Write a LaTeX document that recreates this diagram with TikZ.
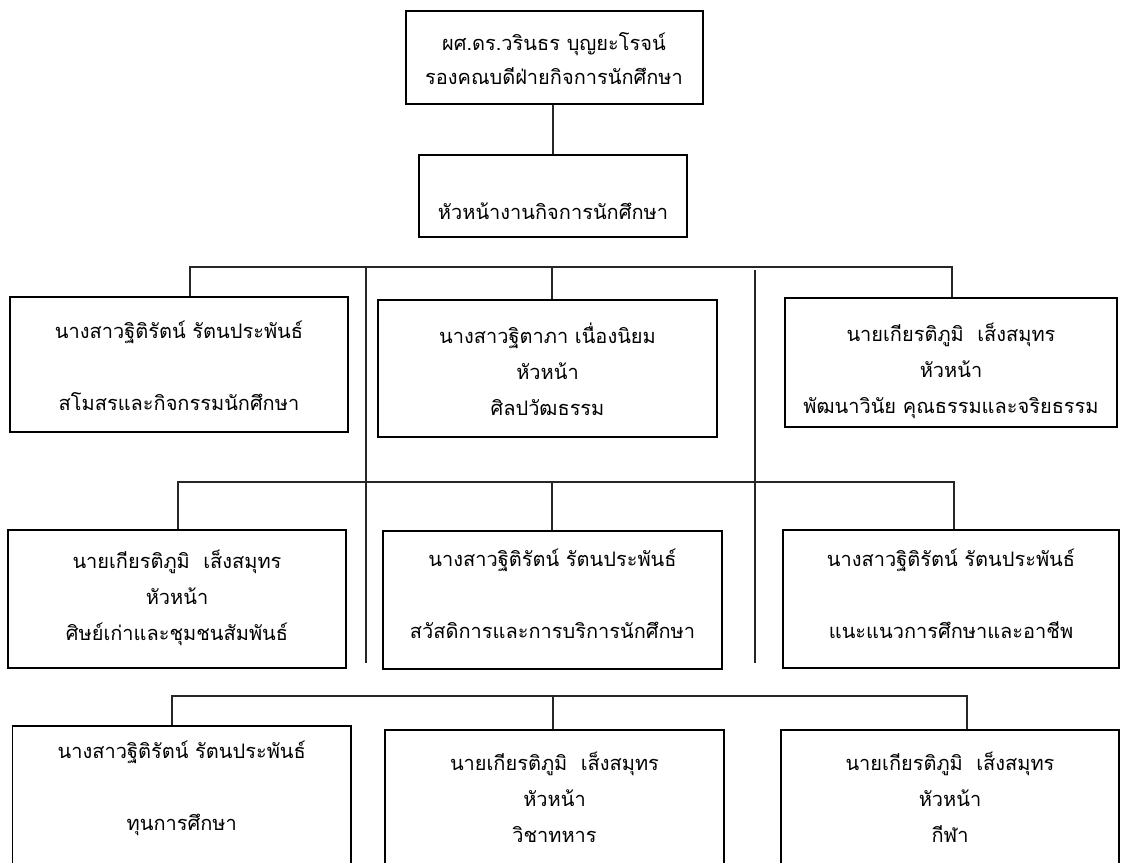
\documentclass[tikz,border=0pt]{standalone}
\usepackage{fontspec}
\newfontfamily\thaifont[Script=Thai]{Loma}
\begin{document}
\begin{tikzpicture}[x=1pt,y=-1pt,
  box/.style={draw=black, line width=1.8pt, inner sep=0pt},
  conn/.style={draw=black!85, line width=1.1pt},
  txt/.style={font=\thaifont\fontsize{20}{36}\selectfont, align=center, inner sep=0pt}]
\useasboundingbox (0,0) rectangle (1121,862);
\clip (0,0) rectangle (1121,862);
% boxes
\node[box, minimum width=297pt, minimum height=93pt] (top) at (554.5,57.5) {};
\node[box, minimum width=268pt, minimum height=82pt] (head) at (553,196) {};
\node[box, minimum width=338pt, minimum height=135pt] (A) at (179,364.5) {};
\node[box, minimum width=339pt, minimum height=137pt] (B) at (547.5,368.5) {};
\node[box, minimum width=332pt, minimum height=129pt] (C) at (951,362.5) {};
\node[box, minimum width=338pt, minimum height=138pt] (D) at (177,599) {};
\node[box, minimum width=339pt, minimum height=138pt] (E) at (552.5,600) {};
\node[box, minimum width=336pt, minimum height=138pt] (F) at (951,599) {};
\node[box, minimum width=338.5pt, minimum height=160pt] (G) at (181.75,806) {};
\node[box, minimum width=339pt, minimum height=160pt] (H) at (554.5,810) {};
\node[box, minimum width=338pt, minimum height=160pt] (I) at (950,810) {};
% texts
\node[txt, font=\thaifont\fontsize{20}{34}\selectfont] (ttop) at (554,59) {ผศ.ดร.วรินธร บุญยะโรจน์\\รองคณบดีฝ่ายกิจการนักศึกษา};
\node[txt] (thead) at (553,211) {หัวหน้างานกิจการนักศึกษา};
\node[txt] (tA) at (179,366) {นางสาวฐิติรัตน์ รัตนประพันธ์\\[36pt]สโมสรและกิจกรรมนักศึกษา};
\node[txt] (tB) at (547.5,369) {นางสาวฐิตาภา เนื่องนิยม\\หัวหน้า\\ศิลปวัฒธรรม};
\node[txt] (tC) at (951,371) {นายเกียรติภูมิ\ \ เส็งสมุทร\\หัวหน้า\\พัฒนาวินัย คุณธรรมและจริยธรรม};
\node[txt] (tD) at (177,598) {นายเกียรติภูมิ\ \ เส็งสมุทร\\หัวหน้า\\ศิษย์เก่าและชุมชนสัมพันธ์};
\node[txt] (tE) at (552.5,594) {นางสาวฐิติรัตน์ รัตนประพันธ์\\[36pt]สวัสดิการและการบริการนักศึกษา};
\node[txt] (tF) at (951,594) {นางสาวฐิติรัตน์ รัตนประพันธ์\\[36pt]แนะแนวการศึกษาและอาชีพ};
\node[txt] (tG) at (181.75,788) {นางสาวฐิติรัตน์ รัตนประพันธ์\\[36pt]ทุนการศึกษา};
\node[txt] (tH) at (554.5,797) {นายเกียรติภูมิ\ \ เส็งสมุทร\\หัวหน้า\\วิชาทหาร};
\node[txt] (tI) at (950,797) {นายเกียรติภูมิ\ \ เส็งสมุทร\\หัวหน้า\\กีฬา};
% bus coordinates
\coordinate (b1L) at (190,267); \coordinate (b1M) at (552,267); \coordinate (b1R) at (952,267);
\coordinate (b2L) at (178,482); \coordinate (b2M) at (552,482); \coordinate (b2R) at (954,482);
\coordinate (b3L) at (172,696); \coordinate (b3M) at (553,696); \coordinate (b3R) at (967,696);
\coordinate (v1t) at (366,267); \coordinate (v1b) at (366,663);
\coordinate (v2t) at (755,270); \coordinate (v2b) at (755,663);
% connectors
\draw[conn] (top.south -| head.north) -- (head.north);
\draw[conn] (A.north -| b1L) -- (b1L) -- (b1R) -- (C.north -| b1R);
\draw[conn] (b1M) -- (b1M |- B.north);
\draw[conn] (D.north -| b2L) -- (b2L) -- (b2R) -- (F.north -| b2R);
\draw[conn] (b2M) -- (b2M |- E.north);
\draw[conn] (G.north -| b3L) -- (b3L) -- (b3R) -- (I.north -| b3R);
\draw[conn] (b3M) -- (b3M |- H.north);
\draw[conn] (v1t) -- (v1b);
\draw[conn] (v2t) -- (v2b);
\end{tikzpicture}
\end{document}
